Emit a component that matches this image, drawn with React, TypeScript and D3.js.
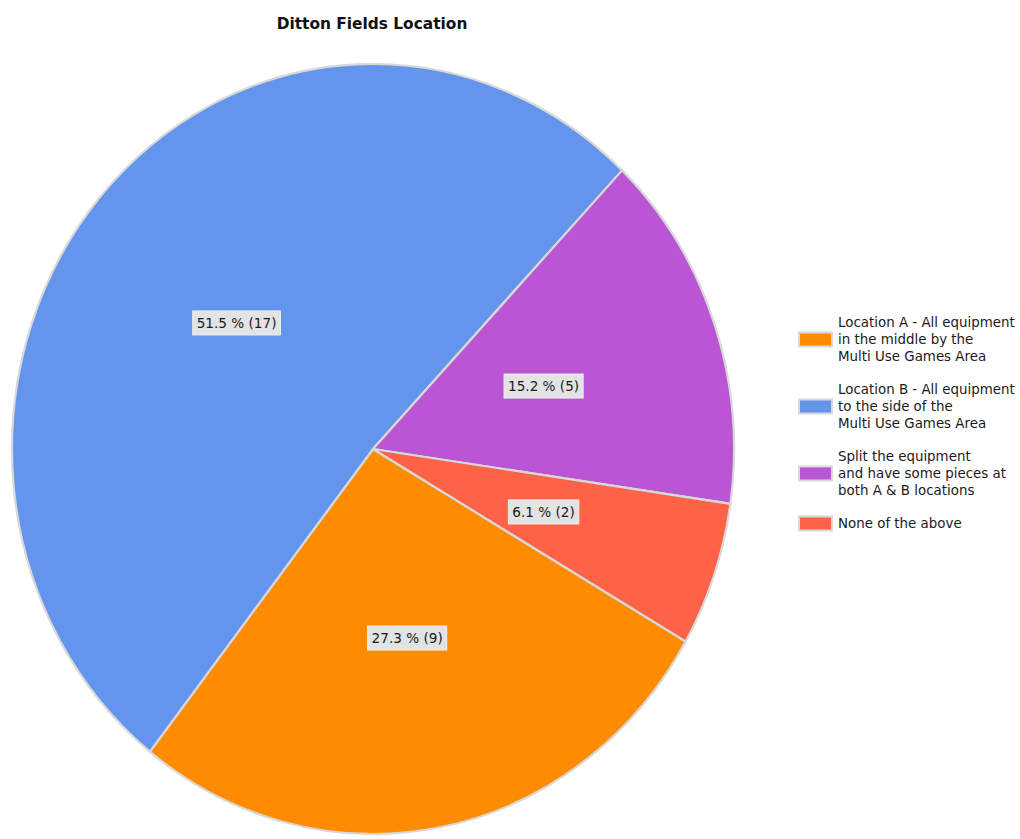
import React, { useEffect, useRef } from "react";
import * as d3 from "d3";

const categories = [
  "Location A - All equipment\nin the middle by the\nMulti Use Games Area",
  "Location B - All equipment\nto the side of the\nMulti Use Games Area",
  "Split the equipment\nand have some pieces at\nboth A & B locations",
  "None of the above",
];
const counts = [9, 17, 5, 2];
const colors = ["#ff8c00", "#6495ed", "#ba55d3", "#ff6347"];
const title = "Ditton Fields Location";

export default function App() {
  const ref = useRef<SVGSVGElement>(null);

  useEffect(() => {
    const svg = d3.select(ref.current);
    svg.selectAll("*").remove();
    const cx = 373, cy = 449, rx = 361, ry = 385;
    const font = "'DejaVu Sans', Verdana, sans-serif";

    svg.append("text")
      .attr("x", 372).attr("y", 29)
      .attr("text-anchor", "middle")
      .attr("font-family", font).attr("font-weight", "bold").attr("font-size", 15.4)
      .attr("fill", "#111")
      .text(title);

    const total = d3.sum(counts);
    const start = (120 * Math.PI) / 180;
    const pie = d3.pie<number>().sort(null).value((d) => d)
      .startAngle(start).endAngle(start + 2 * Math.PI);
    const arcs = pie(counts);
    const arc = d3.arc<d3.PieArcDatum<number>>().innerRadius(0).outerRadius(rx);

    const g = svg.append("g").attr("transform", `translate(${cx},${cy}) scale(1,${ry / rx})`);
    g.selectAll("path").data(arcs).enter().append("path")
      .attr("d", arc as any)
      .attr("fill", (_d, i) => colors[i])
      .attr("stroke", "#d8d8d8")
      .attr("stroke-width", 2.2)
      .attr("vector-effect", "non-scaling-stroke");

    const labelArc = d3.arc<d3.PieArcDatum<number>>().innerRadius(rx * 0.5).outerRadius(rx * 0.5);
    arcs.forEach((a, i) => {
      const [lx, ly0] = labelArc.centroid(a);
      const x = cx + lx, y = cy + ly0 * (ry / rx);
      const pct = ((counts[i] / total) * 100).toFixed(1);
      const lg = svg.append("g");
      const rect = lg.append("rect");
      const t = lg.append("text")
        .attr("x", x).attr("y", y + 5)
        .attr("text-anchor", "middle")
        .attr("font-family", font).attr("font-size", 13.6)
        .attr("fill", "#1a1a1a")
        .text(`${pct} % (${counts[i]})`);
      const bb = (t.node() as SVGTextElement).getBBox();
      rect.attr("x", bb.x - 4).attr("y", y - 12).attr("width", bb.width + 8).attr("height", 24)
        .attr("fill", "#e3e3e3").attr("stroke", "#f0f0f0").attr("stroke-width", 1);
    });

    const legendTops = [314, 381, 448, 515];
    categories.forEach((c, i) => {
      const lines = c.split("\n");
      const top = legendTops[i];
      const lineH = 17;
      lines.forEach((ln, j) => {
        svg.append("text")
          .attr("x", 838).attr("y", top + 13 + j * lineH)
          .attr("font-family", font).attr("font-size", 13.4)
          .attr("fill", "#1a1a1a")
          .text(ln);
      });
      const midY = top + (lines.length * lineH) / 2;
      svg.append("rect")
        .attr("x", 799).attr("y", midY - 7).attr("width", 33).attr("height", 14)
        .attr("fill", colors[i]).attr("stroke", "#d8d8d8").attr("stroke-width", 2);
    });
  }, []);

  return (
    <svg ref={ref} width={1020} height={839}
      style={{ position: "absolute", left: 0, top: 0, background: "#fff" }} />
  );
}
